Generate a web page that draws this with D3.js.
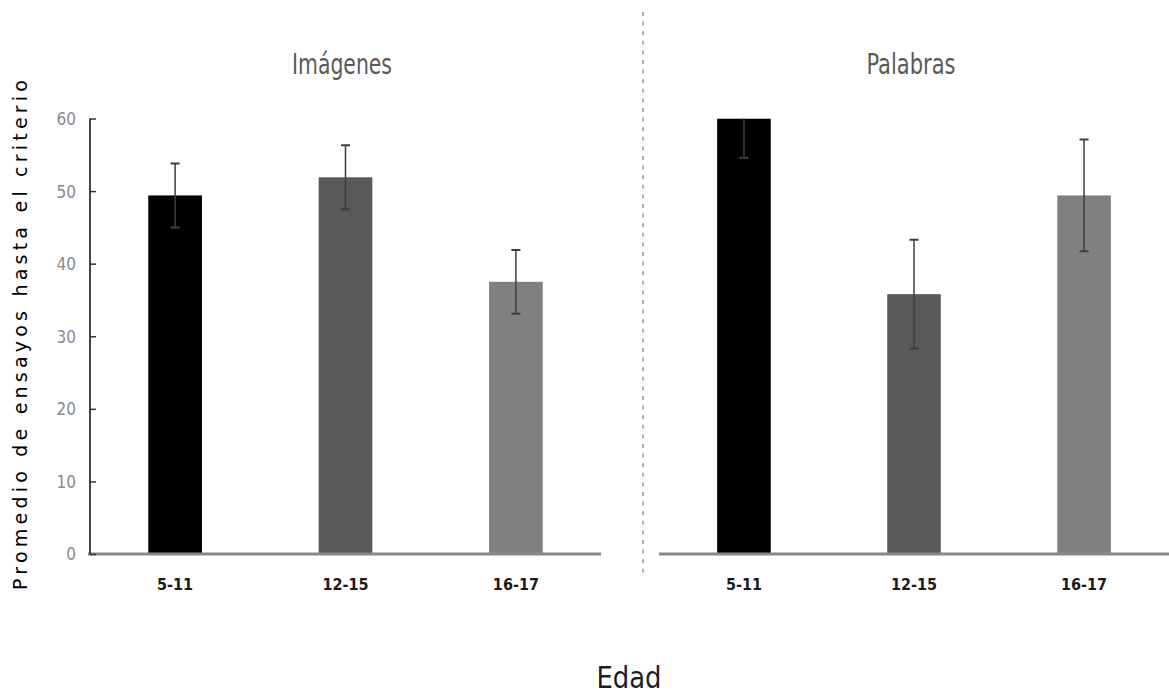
<!DOCTYPE html>
<html>
<head>
<meta charset="utf-8">
<script src="https://cdn.jsdelivr.net/npm/d3@7"></script>
<style>
  html, body { margin: 0; padding: 0; background: #fff; }
  svg { display: block; }
  .cond { font-family: "Liberation Sans Narrow", "DejaVu Sans Condensed", "Liberation Sans", sans-serif; font-stretch: condensed; }
</style>
</head>
<body>
<svg id="chart" width="1169" height="700"></svg>
<script>
// ---- data ----
const categories = ["5-11", "12-15", "16-17"];
const panels = ["Imágenes", "Palabras"];
const imagenesValues = [49.4, 51.9, 37.5];
const imagenesErrors = [4.4, 4.4, 4.4];
const palabrasValues = [60, 35.8, 49.4];
const palabrasErrors = [5.4, 7.5, 7.7];
const yTicks = [0, 10, 20, 30, 40, 50, 60];
const barColors = ["#000000", "#595959", "#808080"];
const yLabel = "Promedio de ensayos hasta el criterio";
const xLabel = "Edad";

const svg = d3.select("#chart");

const y = d3.scaleLinear().domain([0, 60]).range([554, 118.5]);

const panelDefs = [
  { title: panels[0], values: imagenesValues, errors: imagenesErrors, x0: 90, x1: 601, titleX: 342, titleLen: 100, showAxis: true },
  { title: panels[1], values: palabrasValues, errors: palabrasErrors, x0: 659, x1: 1169, titleX: 911, titleLen: 89, showAxis: false }
];

// clip to the plot top (value 60)
svg.append("defs").append("clipPath").attr("id", "plotclip")
  .append("rect").attr("x", 0).attr("y", y(60)).attr("width", 1169).attr("height", 700);

panelDefs.forEach((p, pi) => {
  const x = d3.scaleBand().domain(categories).range([p.x0, p.x1]).paddingInner(0.685).paddingOuter(0.342);
  const g = svg.append("g");
  const rows = categories.map((c, i) => ({ c, v: p.values[i], e: p.errors[i], i }));

  // bars
  g.append("g").attr("clip-path", "url(#plotclip)")
    .selectAll("rect").data(rows).join("rect")
    .attr("x", d => x(d.c))
    .attr("width", x.bandwidth())
    .attr("y", d => y(d.v))
    .attr("height", d => y(0) - y(d.v))
    .attr("fill", d => barColors[d.i]);

  // error bars
  const eg = g.append("g").attr("clip-path", "url(#plotclip)");
  rows.forEach(d => {
    const cx = x(d.c) + x.bandwidth() / 2;
    eg.append("line").attr("x1", cx).attr("x2", cx)
      .attr("y1", y(d.v + d.e)).attr("y2", y(d.v - d.e))
      .attr("stroke", "#3f3f3f").attr("stroke-width", 1.5);
    [d.v + d.e, d.v - d.e].forEach(val => {
      eg.append("line").attr("x1", cx - 4.5).attr("x2", cx + 4.5)
        .attr("y1", y(val)).attr("y2", y(val))
        .attr("stroke", "#3f3f3f").attr("stroke-width", 2);
    });
  });

  // x axis baseline + labels
  const xAxis = d3.axisBottom(x).tickSize(0).tickPadding(0);
  const xg = g.append("g").attr("transform", `translate(0,${y(0)})`).call(xAxis);
  xg.select(".domain").attr("stroke", "#888").attr("stroke-width", 3)
    .attr("d", `M${p.x0 - (p.showAxis ? 2 : 0)},0H${p.x1}`);
  xg.selectAll(".tick text")
    .attr("class", "cond")
    .attr("y", 36)
    .attr("dy", 0)
    .style("font-size", "16px")
    .style("font-weight", "600")
    .attr("fill", "#1a1a1a");

  // y axis (left panel only)
  if (p.showAxis) {
    const yAxis = d3.axisRight(y).tickValues(yTicks).tickSize(6).tickFormat(d3.format("d"));
    const yg = g.append("g").attr("transform", `translate(${p.x0},0)`).call(yAxis);
    yg.select(".domain").attr("stroke", "#444").attr("stroke-width", 2)
      .attr("d", `M0,${y(60)}V${y(0)}`);
    yg.selectAll(".tick line").attr("stroke", "#333").attr("stroke-width", 1.5);
    yg.selectAll(".tick text")
      .attr("class", "cond")
      .attr("x", -14)
      .attr("text-anchor", "end")
      .attr("dy", "0.35em")
      .style("font-size", "17px")
      .attr("fill", "#8a8a8a");
  }

  // panel title
  svg.append("text")
    .attr("class", "cond")
    .attr("x", p.titleX)
    .attr("y", 74)
    .attr("text-anchor", "middle")
    .attr("textLength", p.titleLen)
    .attr("lengthAdjust", "spacingAndGlyphs")
    .style("font-size", "29px")
    .attr("fill", "#5a5a5a")
    .text(p.title);
});

// dashed divider
svg.append("line")
  .attr("x1", 643).attr("x2", 643).attr("y1", 12).attr("y2", 574)
  .attr("stroke", "#888").attr("stroke-width", 1.3)
  .attr("stroke-dasharray", "4,5.6");

// y label
svg.append("text")
  .attr("transform", "translate(27,335) rotate(-90)")
  .attr("text-anchor", "middle")
  .attr("textLength", 510)
  .attr("lengthAdjust", "spacing")
  .style("font-family", "DejaVu Sans, Verdana, sans-serif")
  .style("font-size", "19px")
  .attr("fill", "#000")
  .text(yLabel);

// x label
svg.append("text")
  .attr("class", "cond")
  .attr("x", 629)
  .attr("y", 688)
  .attr("text-anchor", "middle")
  .attr("textLength", 65)
  .attr("lengthAdjust", "spacingAndGlyphs")
  .style("font-size", "30px")
  .attr("fill", "#1b1b2a")
  .text(xLabel);
</script>
</body>
</html>
